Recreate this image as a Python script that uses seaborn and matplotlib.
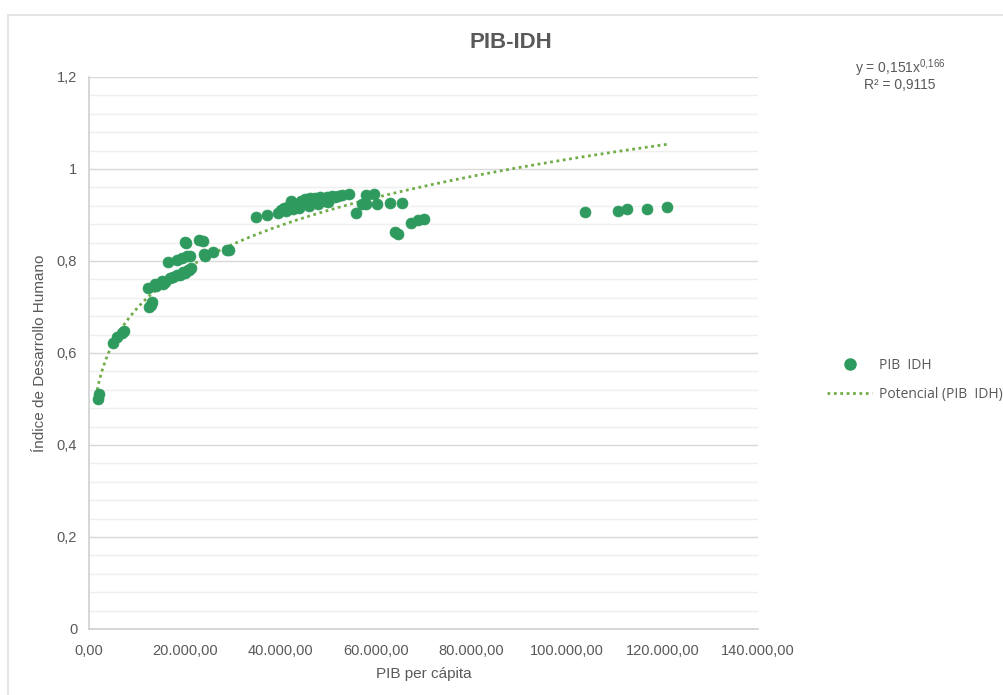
import numpy as np
import pandas as pd
import matplotlib
matplotlib.use('Agg')
import matplotlib.pyplot as plt
import seaborn as sns
from matplotlib.ticker import FuncFormatter, MultipleLocator
from matplotlib.lines import Line2D

# PIB per capita / IDH values
pib = [1900, 2100,
       5000, 5800, 6900, 7300,
       12500, 13000, 13200,
       12400, 13800, 14000, 15300, 15500, 16000, 16900, 17500, 18400, 19000,
       19700, 20000, 20700, 21000, 21300,
       16500, 18400, 19500, 20500, 21100,
       20000, 20300, 23000, 23800,
       24000, 24200, 26000, 28900, 29300,
       35000, 37300,
       39500, 40200, 40800, 41300, 41800, 42200, 42600, 43000, 43800, 44000,
       44300, 44800, 45300, 45800, 46000, 46300, 46800, 47300, 47800, 48000,
       48300, 48800, 49300, 49800, 50000, 50300, 50800, 51500, 52200, 53000,
       54500,
       55900, 57100, 58000, 58000, 59600, 60300, 63000, 65500,
       64000, 64700, 67400, 68800, 70100,
       103800, 110700, 112600, 116800, 121000]
idh = [0.500, 0.510,
       0.622, 0.635, 0.643, 0.648,
       0.700, 0.705, 0.710,
       0.741, 0.750, 0.745, 0.757, 0.750, 0.755, 0.763, 0.765, 0.770, 0.770,
       0.776, 0.775, 0.780, 0.780, 0.785,
       0.798, 0.802, 0.806, 0.810, 0.811,
       0.841, 0.840, 0.846, 0.843,
       0.815, 0.810, 0.820, 0.824, 0.823,
       0.896, 0.900,
       0.905, 0.910, 0.915, 0.908, 0.920, 0.930, 0.912, 0.925, 0.920, 0.915,
       0.930, 0.925, 0.935, 0.928, 0.920, 0.938, 0.930, 0.938, 0.932, 0.925,
       0.940, 0.935, 0.930, 0.940, 0.928, 0.935, 0.942, 0.940, 0.942, 0.944,
       0.946,
       0.904, 0.924, 0.924, 0.943, 0.946, 0.924, 0.926, 0.926,
       0.863, 0.859, 0.883, 0.889, 0.891,
       0.906, 0.909, 0.913, 0.913, 0.917]

# power trend shown on the chart
coef_a = 0.151
coef_b = 0.166
r2 = 0.9115

df = pd.DataFrame({'PIB': pib, 'IDH': idh})

sns.set_style('white')
plt.rcParams['font.family'] = ['Liberation Sans', 'DejaVu Sans']
plt.rcParams['mathtext.default'] = 'regular'

fig = plt.figure(figsize=(10.04, 6.95), dpi=100)
ax = fig.add_axes([89/1004, 1 - 629/695, 669/1004, 552/695])

grey = '#595959'
green = '#2e9a5e'
trend_green = '#70ad47'
dots = (0, (1, 1.3))

sns.scatterplot(data=df, x='PIB', y='IDH', ax=ax, color=green, s=62,
                edgecolor=green, linewidth=0.5, zorder=3, legend=False)

xs = np.linspace(min(pib) * 0.9, max(pib), 400)
ax.plot(xs, coef_a * xs ** coef_b, color=trend_green, lw=2.0,
        linestyle=dots, dash_capstyle='butt', zorder=2)

ax.set_xlim(0, 140000)
ax.set_ylim(0, 1.2)
ax.xaxis.set_major_locator(MultipleLocator(20000))
ax.yaxis.set_major_locator(MultipleLocator(0.2))
ax.yaxis.set_minor_locator(MultipleLocator(0.04))

def fmt_x(v, pos):
    s = f'{v:,.2f}'
    return s.replace(',', 'X').replace('.', ',').replace('X', '.')

def fmt_y(v, pos):
    if abs(v) < 1e-9:
        return '0'
    return f'{v:g}'.replace('.', ',')

ax.xaxis.set_major_formatter(FuncFormatter(fmt_x))
ax.yaxis.set_major_formatter(FuncFormatter(fmt_y))

ax.grid(which='major', axis='y', color='#d9d9d9', lw=1.0)
ax.grid(which='minor', axis='y', color='#efefef', lw=1.0)
ax.set_axisbelow(True)

for side in ['top', 'right']:
    ax.spines[side].set_visible(False)
for side in ['left', 'bottom']:
    ax.spines[side].set_color('#d0d0d0')
    ax.spines[side].set_linewidth(1.2)

ax.tick_params(axis='both', which='major', colors='#d0d0d0', labelcolor=grey,
               labelsize=10.5, length=5, width=1, direction='out')
ax.tick_params(axis='y', which='minor', length=0)
ax.tick_params(axis='x', pad=6)

ax.set_xlabel('PIB per cápita', fontsize=11, color=grey, labelpad=6)
ax.set_ylabel('Índice de Desarrollo Humano', fontsize=11, color=grey, labelpad=7)

fig.text(511/1004, 1 - 43/695, 'PIB-IDH', ha='center', va='center',
         fontsize=16, fontweight='bold', color=grey)

fig.text(900/1004, 1 - 68/695, 'y = 0,151x$^{0{,}166}$', ha='center', va='center',
         fontsize=10, color=grey)
fig.text(900/1004, 1 - 85/695, 'R² = ' + f'{r2}'.replace('.', ','), ha='center',
         va='center', fontsize=10, color=grey)

handles = [
    Line2D([], [], marker='o', color=green, linestyle='none', markersize=8),
    Line2D([], [], color=trend_green, lw=2.0, linestyle=dots,
           dash_capstyle='butt'),
]
leg = fig.legend(handles, ['PIB  IDH', 'Potencial (PIB  IDH)'],
                 loc='center left', bbox_to_anchor=(815/1004, 1 - 380/695),
                 frameon=False, handlelength=3.2, handletextpad=0.5,
                 labelspacing=1.0,
                 prop={'family': ['Open Sans', 'DejaVu Sans'], 'size': 10})
for t in leg.get_texts():
    t.set_color(grey)

# chart border (top and left edges visible)
fig.add_artist(Line2D([8/1004, 1], [1 - 15/695, 1 - 15/695],
                      transform=fig.transFigure, color='#e0e0e0', lw=1.2))
fig.add_artist(Line2D([8/1004, 8/1004], [0, 1 - 15/695],
                      transform=fig.transFigure, color='#e0e0e0', lw=1.2))

fig.savefig('out.png', dpi=100)
